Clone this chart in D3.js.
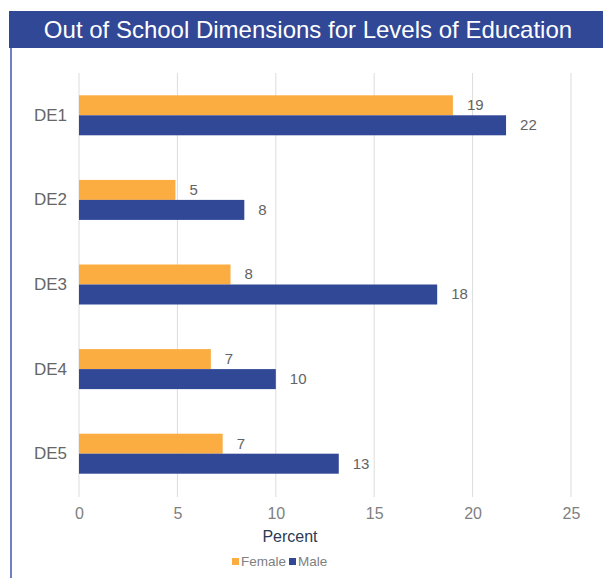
<!DOCTYPE html>
<html>
<head>
<meta charset="utf-8">
<script src="https://cdn.jsdelivr.net/npm/d3@7"></script>
<style>
  html, body { margin: 0; padding: 0; background: #fff; }
  svg { display: block; font-family: "Liberation Sans", Arial, sans-serif; }
</style>
</head>
<body>
<svg id="chart" width="603" height="578"></svg>
<script>
const categories = ["DE1", "DE2", "DE3", "DE4", "DE5"];
const seriesNames = ["Female", "Male"];
const femaleValues = [19.0, 4.9, 7.7, 6.7, 7.3];
const maleValues = [21.7, 8.4, 18.2, 10.0, 13.2];
const xTicks = [0, 5, 10, 15, 20, 25];
const colors = ["#FBAD42", "#314896"];
const title = "Out of School Dimensions for Levels of Education";
const xAxisTitle = "Percent";

const svg = d3.select("#chart");
const W = 603, H = 578;

// frame
svg.append("rect").attr("x", 9).attr("y", 11).attr("width", W - 9).attr("height", 37).attr("fill", "#314896");
svg.append("line").attr("x1", 11).attr("x2", 11).attr("y1", 48).attr("y2", H).attr("stroke", "#6F80C2").attr("stroke-width", 2);
svg.append("text").attr("x", 308).attr("y", 37.5).attr("text-anchor", "middle")
  .attr("fill", "#fff").attr("font-size", "24px").text(title);

const x = d3.scaleLinear().domain([0, 25]).range([79, 571]);
const y = d3.scaleBand().domain(categories).range([73, 496]);
const inner = d3.scaleBand().domain(seriesNames).range([y.bandwidth() / 2 - 20, y.bandwidth() / 2 + 20]);

// gridlines
svg.append("g").selectAll("line").data(xTicks).join("line")
  .attr("x1", d => x(d)).attr("x2", d => x(d))
  .attr("y1", 73).attr("y2", 497)
  .attr("stroke", "#dcdcdc").attr("stroke-width", 1);

// x axis
const xAxis = svg.append("g").attr("transform", "translate(0,497)")
  .call(d3.axisBottom(x).tickValues(xTicks).tickSize(0).tickPadding(11));
xAxis.select(".domain").remove();
xAxis.selectAll("text").attr("font-size", "16px").attr("fill", "#808080").attr("font-family", "Liberation Sans, Arial, sans-serif");

// y axis
const yAxis = svg.append("g").attr("transform", "translate(79,0)")
  .call(d3.axisLeft(y).tickSize(0).tickPadding(12));
yAxis.select(".domain").remove();
yAxis.selectAll("text").attr("font-size", "17px").attr("fill", "#666").attr("font-family", "Liberation Sans, Arial, sans-serif");

const data = categories.map((c, i) => ({ cat: c, vals: [
  { s: "Female", v: femaleValues[i], c: colors[0] },
  { s: "Male", v: maleValues[i], c: colors[1] }
]}));

const groups = svg.append("g").selectAll("g").data(data).join("g")
  .attr("transform", d => `translate(0,${y(d.cat)})`);

groups.selectAll("rect").data(d => d.vals).join("rect")
  .attr("x", x(0)).attr("y", d => inner(d.s))
  .attr("width", d => x(d.v) - x(0)).attr("height", inner.bandwidth())
  .attr("fill", d => d.c);

groups.selectAll("text").data(d => d.vals).join("text")
  .attr("x", d => x(d.v) + 14).attr("y", d => inner(d.s) + inner.bandwidth() / 2 + 5)
  .attr("font-size", "15px").attr("fill", "#636363")
  .text(d => d3.format(".0f")(d.v));

// axis title
svg.append("text").attr("x", 290).attr("y", 542).attr("text-anchor", "middle")
  .attr("font-size", "16px").attr("fill", "#2B3A55").text(xAxisTitle);

// legend
const legendItems = [
  { name: seriesNames[0], color: colors[0], x: 232 },
  { name: seriesNames[1], color: colors[1], x: 289 }
];
const lg = svg.append("g").selectAll("g").data(legendItems).join("g")
  .attr("transform", d => `translate(${d.x},558)`);
lg.append("rect").attr("width", 7).attr("height", 7).attr("fill", d => d.color);
lg.append("text").attr("x", 9).attr("y", 8).attr("font-size", "13.5px").attr("fill", "#808080").text(d => d.name);
</script>
</body>
</html>
